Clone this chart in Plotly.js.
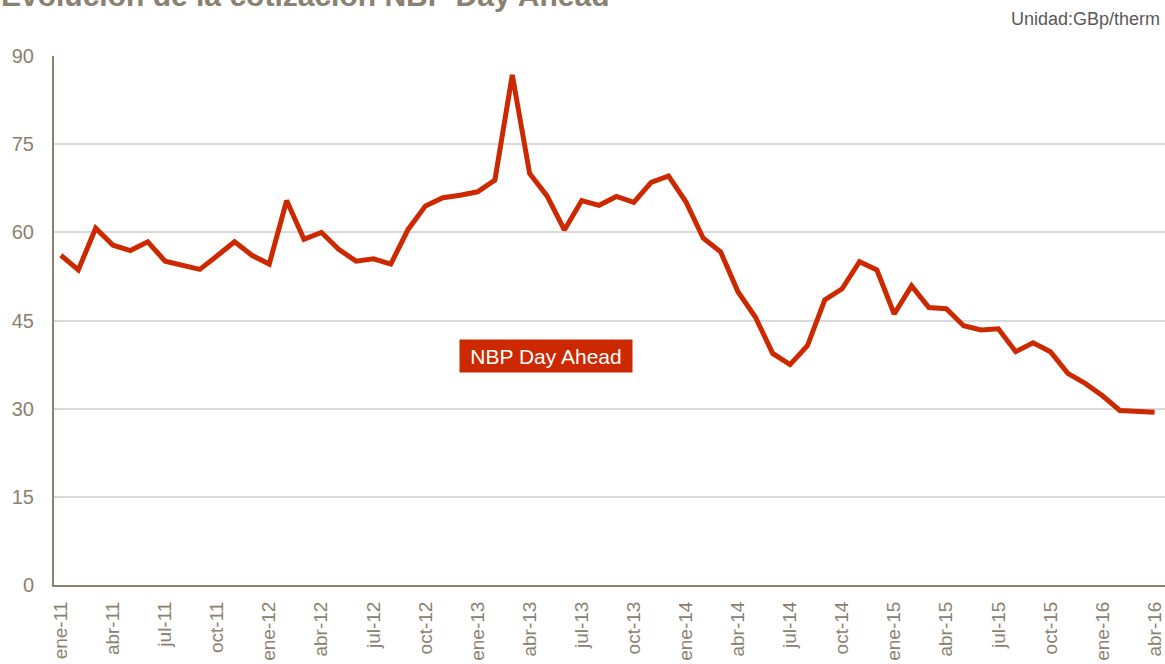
<!DOCTYPE html>
<html>
<head>
<meta charset="utf-8">
<script src="https://cdn.plot.ly/plotly-3.0.1.min.js"></script>
<style>html,body{margin:0;padding:0;background:#fff;}#chart{width:1165px;height:664px;}</style>
</head>
<body>
<div id="chart"></div>
<script>
const months = [
  "ene-11","feb-11","mar-11","abr-11","may-11","jun-11","jul-11","ago-11","sep-11","oct-11","nov-11","dic-11",
  "ene-12","feb-12","mar-12","abr-12","may-12","jun-12","jul-12","ago-12","sep-12","oct-12","nov-12","dic-12",
  "ene-13","feb-13","mar-13","abr-13","may-13","jun-13","jul-13","ago-13","sep-13","oct-13","nov-13","dic-13",
  "ene-14","feb-14","mar-14","abr-14","may-14","jun-14","jul-14","ago-14","sep-14","oct-14","nov-14","dic-14",
  "ene-15","feb-15","mar-15","abr-15","may-15","jun-15","jul-15","ago-15","sep-15","oct-15","nov-15","dic-15",
  "ene-16","feb-16","mar-16","abr-16"
];
const nbpDayAhead = [
  56.1,53.6,60.7,57.8,56.9,58.4,55.1,54.3,53.7,56.0,58.4,56.1,
  54.6,65.4,58.8,60.0,57.1,55.1,55.5,54.6,60.5,64.5,65.9,66.3,
  66.9,68.9,86.8,70.0,66.2,60.4,65.4,64.6,66.1,65.1,68.5,69.6,
  65.2,59.0,56.7,49.9,45.6,39.4,37.5,40.7,48.5,50.4,55.0,53.6,
  46.1,50.9,47.2,47.0,44.1,43.4,43.6,39.7,41.2,39.7,36.0,34.3,
  32.2,29.7,29.6,29.4
];
const tickLabels = ["ene-11","abr-11","jul-11","oct-11","ene-12","abr-12","jul-12","oct-12","ene-13","abr-13","jul-13","oct-13","ene-14","abr-14","jul-14","oct-14","ene-15","abr-15","jul-15","oct-15","ene-16","abr-16"];
const yTicks = [0,15,30,45,60,75,90];

const axisTextColor = "#8a8170";
const font = "Liberation Sans, Arial, sans-serif";

const trace = {
  x: months, y: nbpDayAhead, type: "scatter", mode: "lines",
  name: "NBP Day Ahead",
  line: {color: "#cc2900", width: 5},
  hoverinfo: "x+y"
};

const layout = {
  width: 1165, height: 664,
  margin: {l: 54, r: 0, t: 56, b: 79},
  paper_bgcolor: "#ffffff", plot_bgcolor: "#ffffff",
  showlegend: false,
  font: {family: font, color: axisTextColor},
  xaxis: {
    type: "category",
    range: [-0.4, 63.6],
    tickmode: "array", tickvals: tickLabels, ticktext: tickLabels,
    tickangle: -90,
    tickfont: {family: font, size: 19, color: axisTextColor},
    ticks: "outside", ticklen: 7, tickcolor: "rgba(0,0,0,0)",
    showgrid: false, zeroline: false,
    showline: true, linecolor: "#8c826c", linewidth: 2
  },
  yaxis: {
    range: [0, 90],
    tickmode: "array", tickvals: yTicks, ticktext: yTicks.map(String),
    tickfont: {family: font, size: 20, color: axisTextColor},
    ticks: "outside", ticklen: 14, tickcolor: "rgba(0,0,0,0)",
    showgrid: true, gridcolor: "#d9d9d9", gridwidth: 2,
    zeroline: false,
    showline: true, linecolor: "#8c826c", linewidth: 2
  },
  annotations: [
    {
      text: "<b>Evolución de la cotización NBP Day Ahead</b>",
      xref: "paper", yref: "paper",
      x: -54 / 1111, xanchor: "left", y: 1.0813, yanchor: "bottom",
      showarrow: false, borderpad: 0,
      font: {family: font, size: 30, color: "#8a8170"}
    },
    {
      text: "Unidad:GBp/therm", xref: "paper", yref: "paper",
      x: 0.9973, xanchor: "right", y: 1.070, yanchor: "middle",
      showarrow: false, font: {family: font, size: 18, color: "#595959"}
    },
    {
      text: "NBP Day Ahead", xref: "paper", yref: "paper",
      x: 0.4424, y: 0.4338, xanchor: "center", yanchor: "middle",
      width: 164, height: 24.4,
      showarrow: false, bgcolor: "#cc2900", borderpad: 4,
      font: {family: font, size: 21, color: "#ffffff"}
    }
  ]
};

Plotly.newPlot("chart", [trace], layout, {displayModeBar: false, staticPlot: true});
</script>
</body>
</html>
